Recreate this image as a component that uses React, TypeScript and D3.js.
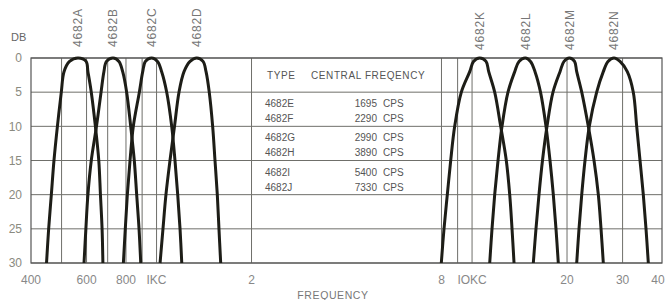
import React from 'react';
import * as d3 from 'd3';

// attenuation levels (dB) at which each filter curve was read, left skirt -> peak -> right skirt
const dbLevels = [30, 25, 20, 15, 10, 5, 2, 0.5, 0, 0.5, 2, 5, 10, 15, 20, 25, 30];

const filterNames = ['4682A', '4682B', '4682C', '4682D', '4682K', '4682L', '4682M', '4682N'];
const freqA = [448, 455, 464, 473, 485, 499, 509, 530, 564, 598, 606, 621, 640, 656, 664, 672, 676];
const freqB = [589, 597, 606, 621, 645, 667, 681, 694, 728, 760, 781, 804, 828, 850, 865, 880, 891];
const freqC = [785, 796, 808, 824, 844, 882, 904, 922, 965, 1007, 1038, 1077, 1117, 1144, 1167, 1187, 1202];
const freqD = [1026, 1048, 1071, 1103, 1140, 1178, 1222, 1277, 1341, 1404, 1435, 1469, 1506, 1532, 1558, 1577, 1597];
const freqK = [7990, 8149, 8348, 8557, 8810, 9248, 9833, 10108, 10575, 11074, 11293, 11797, 12324, 12839, 13164, 13388, 13585];
const freqL = [11376, 11568, 11797, 12087, 12443, 12999, 13653, 14089, 14748, 15320, 15832, 16481, 17155, 17664, 18095, 18453, 18766];
const freqM = [15638, 15945, 16299, 16720, 17282, 18053, 19003, 19567, 20340, 21126, 21464, 22266, 23360, 24355, 25132, 25633, 26064];
const freqN = [21464, 21828, 22266, 22805, 23533, 24834, 26064, 26974, 28179, 29441, 31048, 32439, 33256, 34071, 34897, 35594, 36199];
const filterFreqs = [freqA, freqB, freqC, freqD, freqK, freqL, freqM, freqN];

const tableTypes = ['4682E', '4682F', '4682G', '4682H', '4682I', '4682J'];
const tableCps = [1695, 2290, 2990, 3890, 5400, 7330];

const gridFreqs = [500, 600, 700, 800, 900, 1000, 2000, 8000, 9000, 10000, 20000, 30000];
const tickFreqs = [400, 600, 800, 1000, 2000, 8000, 10000, 20000, 30000, 40000];
const tickLabels = ['400', '600', '800', 'IKC', '2', '8', 'IOKC', '20', '30', '40'];
const dbTicks = [0, 5, 10, 15, 20, 25, 30];

const font = '"Liberation Sans", Arial, sans-serif';

export default function App() {
  const x = d3.scaleLog().domain([400, 40000]).range([31, 662]);
  const y = d3.scaleLinear().domain([0, 30]).range([58, 263]);

  const line = d3
    .line<[number, number]>()
    .x(d => x(d[0]))
    .y(d => y(d[1]))
    .curve(d3.curveCatmullRom.alpha(0.5));

  const grid = '#6f6f6a';

  return (
    <svg width={666} height={300} style={{ position: 'absolute', left: 0, top: 0, background: '#fff' }}>
      {/* horizontal grid */}
      {dbTicks.map(d => (
        <line key={'h' + d} x1={x(400)} x2={x(40000)} y1={y(d)} y2={y(d)} stroke={grid} strokeWidth={1} />
      ))}
      {/* vertical grid */}
      {gridFreqs.map(f => (
        <line key={'v' + f} x1={x(f)} x2={x(f)} y1={y(0)} y2={y(30)} stroke={grid} strokeWidth={1} />
      ))}
      <rect x={x(400)} y={y(0)} width={x(40000) - x(400)} height={y(30) - y(0)} fill="none" stroke="#555" strokeWidth={1.2} />

      {/* table */}
      <text x={267} y={y(0) + 21} fontFamily={font} fontSize={10} fill="#555" letterSpacing={0.6}>
        TYPE
      </text>
      <text x={311} y={y(0) + 21} fontFamily={font} fontSize={10} fill="#555" letterSpacing={0.6}>
        CENTRAL FREQENCY
      </text>
      {tableTypes.map((t, i) => {
        const band = Math.floor(i / 2);
        const ty = y(5 * (band + 1)) + 15 + (i % 2) * 15;
        return (
          <g key={t} fontFamily={font} fontSize={10} fill="#555">
            <text x={265} y={ty}>{t}</text>
            <text x={377} y={ty} textAnchor="end">{tableCps[i]}</text>
            <text x={383} y={ty}>CPS</text>
          </g>
        );
      })}

      {/* filter curves */}
      {filterFreqs.map((fs, i) => (
        <path
          key={filterNames[i]}
          d={line(fs.map((f, j) => [f, dbLevels[j]] as [number, number])) || ''}
          fill="none"
          stroke="#1d1d17"
          strokeWidth={3}
          strokeLinejoin="round"
        />
      ))}

      {/* filter labels */}
      {filterFreqs.map((fs, i) => {
        const peak = fs[dbLevels.indexOf(0)];
        const base = i < 4 ? 47 : 50;
        return (
          <text
            key={'l' + filterNames[i]}
            transform={`translate(${x(peak)},${base}) rotate(-90)`}
            dy="0.36em"
            fontFamily={font}
            fontSize={12}
            letterSpacing={0.8}
            fill="#777"
          >
            {filterNames[i]}
          </text>
        );
      })}

      {/* y axis */}
      <text x={11} y={41} fontFamily={font} fontSize={11} fill="#666">DB</text>
      {dbTicks.map(d => (
        <text key={'y' + d} x={22} y={y(d)} dy="0.36em" textAnchor="end" fontFamily={font} fontSize={12} fill="#8a8a80">
          {d}
        </text>
      ))}

      {/* x axis */}
      {tickFreqs.map((f, i) => (
        <text
          key={'x' + f}
          x={i === tickFreqs.length - 1 ? x(f) - 4 : x(f)}
          y={284}
          textAnchor="middle"
          fontFamily={font}
          fontSize={12}
          fill="#888"
        >
          {tickLabels[i]}
        </text>
      ))}
      <text x={333} y={299} textAnchor="middle" fontFamily={font} fontSize={10.5} letterSpacing={0.6} fill="#777">
        FREQUENCY
      </text>
    </svg>
  );
}
